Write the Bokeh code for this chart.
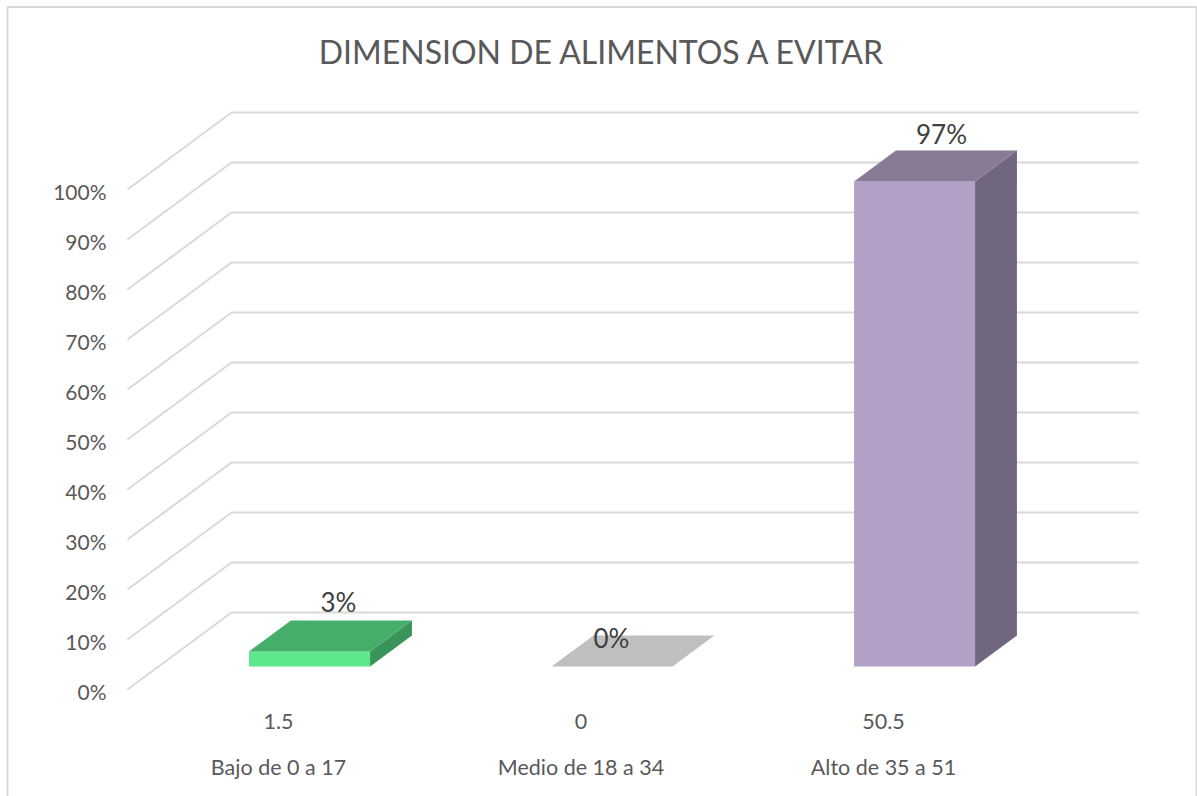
from bokeh.plotting import figure
from bokeh.embed import file_html
from bokeh.resources import INLINE
from bokeh.core.properties import value

# ---- chart data ----
title = "DIMENSION DE ALIMENTOS A EVITAR"
categories = ["Bajo de 0 a 17", "Medio de 18 a 34", "Alto de 35 a 51"]
raw_values = ["1.5", "0", "50.5"]
percents = [3, 0, 97]
y_ticks = [0, 10, 20, 30, 40, 50, 60, 70, 80, 90, 100]

front_colors = ["#5EE68A", "#BFBFBF", "#B2A0C6"]
top_colors = ["#45AE6A", "#BFBFBF", "#877B96"]
side_colors = ["#3A9359", "#BFBFBF", "#71667F"]

# ---- page geometry (reference pixels) ----
W, H = 1197, 796
PX_X0 = 278.0          # pixel x of category 0 at the floor front
PX_UNIT = 302.5        # pixels per category
PX_Y0 = 689.0          # pixel y of 0 % on the floor front
PX_PCT = 5.0           # pixels per percent

DX = 104.0 / PX_UNIT   # depth shift of the back wall, category units
DY = 77.0 / PX_PCT     # depth shift of the back wall, percent units
Z_FRONT = 23.0 / 77.0  # bar depth span
Z_BACK = 54.0 / 77.0
BAR_W = 121.0 / PX_UNIT


def px(v):
    return (v - PX_X0) / PX_UNIT


def py(v):
    return (PX_Y0 - v) / PX_PCT


LEFT = px(127)
RIGHT = px(1138) - DX

p = figure(width=W, height=H, output_backend="svg", toolbar_location=None,
           x_range=(px(0), px(W)), y_range=(py(H), py(0)),
           min_border=0, min_border_left=0, min_border_right=0,
           min_border_top=0, min_border_bottom=0,
           x_axis_type=None, y_axis_type=None)
p.grid.visible = False
p.background_fill_color = "white"
p.border_fill_color = "white"
p.outline_line_color = None

# chart-area border (open at the bottom, as in the reference)
p.line([px(7), px(7), px(1196), px(1196)], [py(796), py(6.5), py(6.5), py(796)],
       line_color="#D9D9D9", line_width=2)

# gridlines: slanted side wall + back wall
for t in y_ticks:
    p.line([LEFT, LEFT + DX, RIGHT + DX], [t, t + DY, t + DY],
           line_color="#D9D9D9", line_width=2)

# 3D bars
for i, v in enumerate(percents):
    x0 = i - BAR_W / 2
    x1 = i + BAR_W / 2
    fx0, bx0 = x0 + Z_FRONT * DX, x0 + Z_BACK * DX
    fx1, bx1 = x1 + Z_FRONT * DX, x1 + Z_BACK * DX
    fb, bb = Z_FRONT * DY, Z_BACK * DY
    if v > 0:
        p.patch([fx0, fx1, fx1, fx0], [fb, fb, fb + v, fb + v],
                fill_color=front_colors[i], line_color=None)
        p.patch([fx1, bx1, bx1, fx1], [fb, bb, bb + v, fb + v],
                fill_color=side_colors[i], line_color=None)
    p.patch([fx0, fx1, bx1, bx0], [fb + v, fb + v, bb + v, bb + v],
            fill_color=top_colors[i], line_color=None)

FONT = value("Lato")

# y tick labels
p.text([px(106)] * len(y_ticks), [t + py(690.5) for t in y_ticks], text=[f"{t}%" for t in y_ticks],
       text_font=FONT, text_font_size="21px", text_color="#595959",
       text_align="right", text_baseline="middle")

# value + category rows
idx = list(range(len(categories)))
p.text(idx, [py(721)] * 3, text=raw_values,
       text_font=FONT, text_font_size="21.5px", text_color="#595959",
       text_align="center", text_baseline="middle")
p.text(idx, [py(766)] * 3, text=categories,
       text_font=FONT, text_font_size="21.5px", text_color="#595959",
       text_align="center", text_baseline="middle")

# data labels
p.text([px(338), px(611), px(941)], [py(601), py(637), py(133)], text=[f"{v}%" for v in percents],
       text_font=FONT, text_font_size="26px", text_color="#404040",
       text_align="center", text_baseline="middle")

# title
p.text([px(602)], [py(51)], text=[title],
       text_font=FONT, text_font_size="32px", text_color="#595959",
       text_align="center", text_baseline="middle")

open("out.html", "w").write(file_html(p, INLINE))
